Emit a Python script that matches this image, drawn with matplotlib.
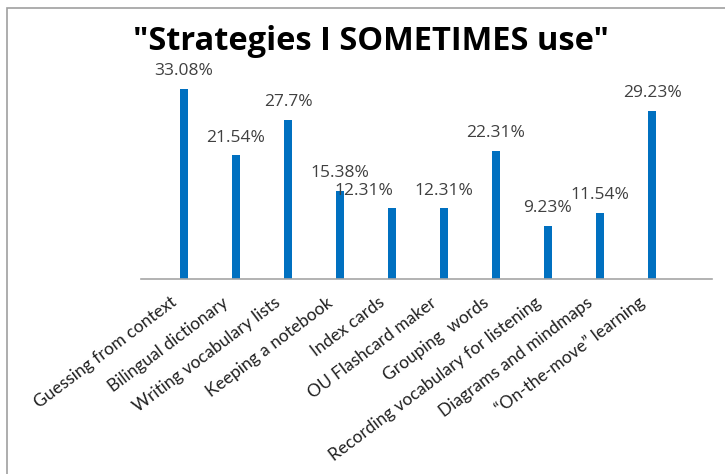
import matplotlib.pyplot as plt
from matplotlib.patches import Rectangle
from matplotlib.transforms import ScaledTranslation

# data
strategies = ["Guessing from context", "Bilingual dictionary", "Writing vocabulary lists",
              "Keeping a notebook", "Index cards", "OU Flashcard maker", "Grouping  words",
              "Recording vocabulary for listening", "Diagrams and mindmaps",
              "\u201cOn-the-move\u201d learning"]
percent = [33.08, 21.54, 27.7, 15.38, 12.31, 12.31, 22.31, 9.23, 11.54, 29.23]
labels = ["33.08%", "21.54%", "27.7%", "15.38%", "12.31%", "12.31%", "22.31%",
          "9.23%", "11.54%", "29.23%"]

plt.rcParams['font.family'] = ['Lato', 'DejaVu Sans']

W, H = 725, 474
fig = plt.figure(figsize=(W / 100, H / 100), dpi=100)

# outer chart border
fig.patches.append(Rectangle((7 / W, -0.1), 1.2, (H - 8) / H + 0.1, transform=fig.transFigure,
                             fill=False, edgecolor='#a0a0a0', linewidth=1.2))

# axes placed in pixel coords: baseline y=279, first bar x=184, step 52
step = 52
x0 = 184
left_px, right_px = 141, 712
ymax = 40
ppu = 5.74
top_px = 279 - ymax * ppu
ax = fig.add_axes([left_px / W, (H - 279) / H, (right_px - left_px) / W, (279 - top_px) / H])
ax.set_xlim((left_px - x0) / step, (right_px - x0) / step)
ax.set_ylim(0, ymax)

xs = list(range(len(percent)))
ax.bar(xs, percent, width=0.135, color='#0070C0')

for i, (v, t) in enumerate(zip(percent, labels)):
    dx = -0.55 if i == 4 else 0
    ax.annotate(t, (xs[i] + dx, v), xytext=(0, 7), textcoords='offset points',
                ha='center', va='bottom', fontsize=12.5, color='#404040',
                family=['Open Sans', 'DejaVu Sans'])

for s in ['top', 'right', 'left']:
    ax.spines[s].set_visible(False)
ax.spines['bottom'].set_color('#a6a6a6')
ax.spines['bottom'].set_linewidth(1.2)
ax.set_yticks([])
ax.set_xticks(xs)
ax.set_xticklabels(strategies, rotation=37, ha='right', rotation_mode='anchor',
                   fontsize=12.5, color='#202020')
ax.tick_params(axis='x', length=0, pad=11)
shift = ScaledTranslation(-14 / 100, 0, fig.dpi_scale_trans)
for lab in ax.get_xticklabels():
    lab.set_transform(lab.get_transform() + shift)
ax.patch.set_visible(False)

fig.text(371 / W, 1 - 42 / H, "\"Strategies I SOMETIMES use\"", ha='center', va='center',
         fontsize=23.5, fontweight='bold', color='black', family=['Open Sans', 'DejaVu Sans'])

fig.savefig('out.png', dpi=100)
